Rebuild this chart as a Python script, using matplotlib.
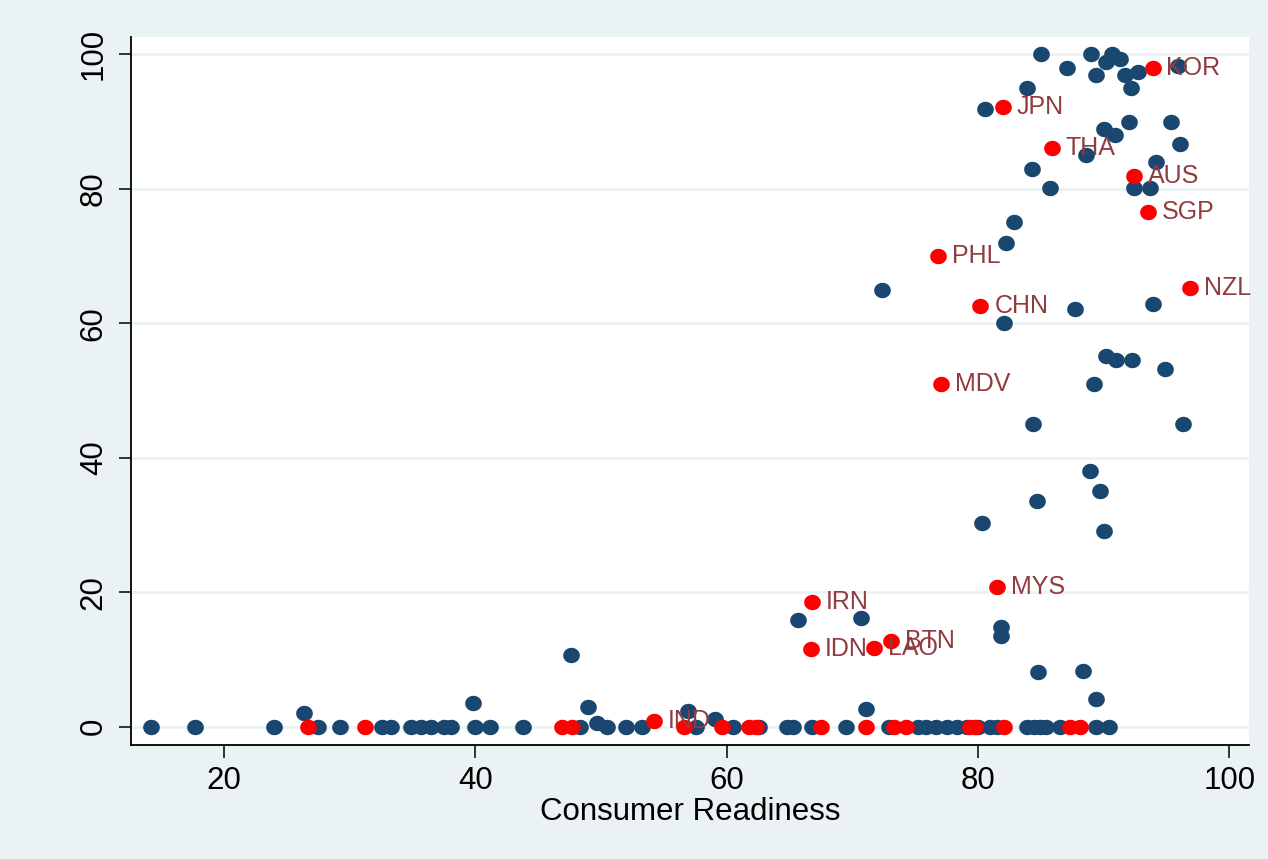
import numpy as np
import matplotlib
matplotlib.use("Agg")
import matplotlib.pyplot as plt
from matplotlib.path import Path

# Other countries (navy markers)
other_x = [14.2, 17.7, 24.0, 27.5, 29.2, 32.6, 33.3, 34.9, 35.7, 36.5, 37.5, 38.1,
           40.0, 41.2, 43.8, 48.3, 50.5, 52.0, 53.3, 57.6, 60.5, 62.6, 64.8, 65.3,
           66.8, 69.5, 72.9, 75.2, 75.9, 76.7, 77.5, 78.3, 79.1, 80.0, 81.0, 81.5,
           83.9, 84.5, 84.9, 85.4, 86.5, 89.4, 90.4,
           26.4, 39.8, 47.6, 49.0, 49.7, 56.9, 59.1, 71.1, 84.8, 88.4, 89.4, 81.8,
           81.8, 65.7, 70.7, 80.3, 84.7, 89.7, 88.9, 90.0, 84.4, 96.3, 89.2, 90.2,
           91.0, 92.3, 94.9, 82.1, 87.7, 93.9, 72.4, 82.2, 82.9, 85.7, 92.4, 93.7,
           84.3, 94.2, 88.6, 96.1, 90.0, 90.9, 92.0, 95.4, 80.6, 83.9, 92.2, 87.1,
           89.4, 91.7, 92.7, 95.9, 90.2, 91.3, 85.0, 89.0, 90.7]
other_y = [0, 0, 0, 0, 0, 0, 0, 0, 0, 0, 0, 0,
           0, 0, 0, 0, 0, 0, 0, 0, 0, 0, 0, 0,
           0, 0, 0, 0, 0, 0, 0, 0, 0, 0, 0, 0,
           0, 0, 0, 0, 0, 0, 0,
           2.1, 3.6, 10.6, 3.0, 0.5, 2.4, 1.1, 2.7, 8.1, 8.3, 4.1, 14.9,
           13.5, 15.9, 16.2, 30.3, 33.5, 35.0, 38.0, 29.1, 45.0, 45.0, 51.0, 55.1,
           54.5, 54.5, 53.2, 60.0, 62.1, 62.9, 64.9, 72.0, 75.0, 80.1, 80.1, 80.1,
           83.0, 84.0, 85.0, 86.6, 88.9, 88.0, 90.0, 90.0, 91.9, 95.0, 95.0, 97.9,
           96.9, 96.9, 97.3, 98.2, 98.9, 99.3, 100, 100, 100]

# Asia-Pacific countries (red markers)
ap_x = [93.9, 82.0, 85.9, 92.4, 93.5, 76.8, 96.9, 80.2, 77.1, 81.5, 66.8, 66.7,
        71.7, 73.1, 54.2,
        26.7, 31.2, 46.9, 47.7, 56.6, 59.6, 61.8, 62.3, 67.5, 71.1, 73.3, 74.3,
        79.4, 79.8, 82.1, 87.3, 88.1]
ap_y = [97.9, 92.2, 86.1, 81.9, 76.6, 70.0, 65.2, 62.5, 50.9, 20.8, 18.6, 11.6,
        11.7, 12.7, 0.9,
        0, 0, 0, 0, 0, 0, 0, 0, 0, 0, 0, 0,
        0, 0, 0, 0, 0]
ap_names = ["KOR", "JPN", "THA", "AUS", "SGP", "PHL", "NZL", "CHN", "MDV", "MYS",
            "IRN", "IDN", "LAO", "BTN", "IND",
            "", "", "", "", "", "", "", "", "", "", "", "",
            "", "", "", "", ""]

x_ticks = [20, 40, 60, 80, 100]
y_ticks = [0, 20, 40, 60, 80, 100]
x_title = "Consumer Readiness"

plt.rcParams["font.family"] = ["Liberation Sans", "DejaVu Sans"]

BG = "#eaf2f3"
NAVY = "#1a476f"
RED = "#ff0000"
LABEL = "#903b40"

# slightly wide ellipse marker
t = np.linspace(0, 2 * np.pi, 65)
ellipse = Path(np.column_stack([1.08 * np.cos(t), np.sin(t)]), closed=True)

fig = plt.figure(figsize=(12.68, 8.59), dpi=100, facecolor=BG)
ax = fig.add_axes([0.1033, 0.1327, 0.8817, 0.8242])
ax.set_facecolor("white")

ax.set_xlim(12.6, 101.57)
ax.set_ylim(-2.72, 102.57)

for yv in y_ticks:
    ax.axhline(yv, color=BG, lw=2.0, zorder=0)

ax.plot(other_x, other_y, linestyle="none", marker=ellipse, ms=12,
        mfc=NAVY, mec=NAVY, mew=0, zorder=2)
ax.plot(ap_x, ap_y, linestyle="none", marker=ellipse, ms=12,
        mfc=RED, mec=RED, mew=0, zorder=3)

for x, y, name in zip(ap_x, ap_y, ap_names):
    if name:
        ax.annotate(name, (x, y), xytext=(10, 0), textcoords="offset points",
                    ha="left", va="center", fontsize=18, color=LABEL, zorder=4)

ax.set_xticks(x_ticks)
ax.set_yticks(y_ticks)
ax.set_xticklabels([str(v) for v in x_ticks])
ax.set_yticklabels([str(v) for v in y_ticks], rotation=90, va="center")
ax.tick_params(axis="both", length=9, width=1.1, color="black",
               labelsize=22.5, labelcolor="black")
ax.tick_params(axis="x", pad=6)
ax.tick_params(axis="y", pad=7)

for side in ("top", "right"):
    ax.spines[side].set_visible(False)
for side in ("left", "bottom"):
    ax.spines[side].set_color("black")
    ax.spines[side].set_linewidth(1.3)

ax.set_xlabel(x_title, fontsize=22.5, labelpad=1)

fig.savefig("out.png", dpi=100, facecolor=BG)
